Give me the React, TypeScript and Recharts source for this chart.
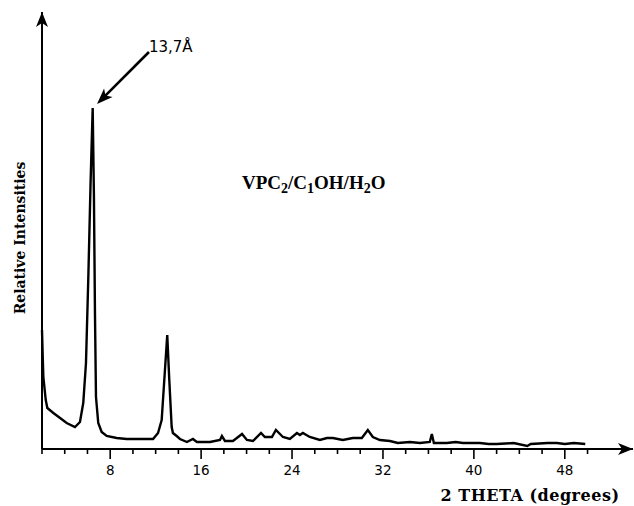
import { LineChart, Line, XAxis, YAxis, ReferenceLine, ReferenceDot } from "recharts";

// 2θ positions (degrees) and relative intensity (arbitrary units)
const twoTheta = [
  2.0, 2.08, 2.12, 2.33, 2.47, 3.0, 3.59, 4.17, 4.9, 5.34, 5.63, 5.87, 6.07, 6.28,
  6.46, 6.57, 6.66, 6.75, 6.95, 7.25, 7.69, 8.57, 9.45, 10.6, 11.77, 12.21, 12.53,
  12.76, 13.02, 13.2, 13.41, 13.52, 13.85, 14.14, 14.75, 15.28, 15.63, 16.78, 17.66,
  17.83, 18.1, 18.8, 19.6, 20.03, 20.56, 21.27, 21.61, 22.23, 22.58, 23.2, 23.81,
  24.43, 24.69, 24.95, 25.56, 26.45, 27.07, 27.59, 28.47, 29.35, 30.14, 30.67, 31.11,
  31.73, 32.61, 33.31, 34.37, 35.25, 36.12, 36.3, 36.48, 37.62, 38.4, 39.03, 40.52,
  41.3, 42.0, 43.5, 44.7, 45.0, 46.5, 47.3, 48.0, 48.8, 49.8,
];
const intensity = [
  119, 86, 72, 49, 41, 36, 31, 26, 22, 27, 46, 86, 169, 269,
  341, 252, 136, 52, 26, 17, 13, 11, 10, 10, 10, 16, 29,
  69, 114, 69, 22, 16, 13, 10, 7, 10, 7, 7, 9,
  13, 8, 8, 15, 9, 8, 16, 12, 12, 19, 12, 10,
  16, 14, 16, 12, 9, 11, 11, 9, 11, 11, 19, 12,
  9, 8, 6, 7, 6, 7, 15, 6, 6, 7, 6, 6,
  5, 5, 6, 3, 5, 6, 6, 5, 6, 5,
];

const xTicks = [2, 4, 6, 8, 10, 12, 14, 16, 18, 20, 22, 24, 26, 28, 30, 32, 34, 36, 38, 40, 42, 44, 46, 48, 50];
const xLabelled = [8, 16, 24, 32, 40, 48];

const peakLabel = "13,7Å";
const arrowFrom = { x: 11.41, y: 397 };
const arrowTo = { x: 6.84, y: 345 };

const data = twoTheta.map((t, i) => ({ t, i: intensity[i] }));

const XTick = ({ x, y, payload }: any) => {
  const major = xLabelled.includes(payload.value);
  return (
    <g>
      <line x1={x} y1={y} x2={x} y2={y + (major ? 10 : 5)} stroke="#000" strokeWidth={1.6} />
      {major && (
        <text x={x} y={y + 26} textAnchor="middle" fontFamily="DejaVu Sans" fontSize={13.5} fill="#000">
          {payload.value}
        </text>
      )}
    </g>
  );
};

// filled arrow head, tip at (cx, cy), pointing along angle (radians)
const head = (cx: number, cy: number, ang: number, len = 15, half = 6) => {
  const c = Math.cos(ang);
  const s = Math.sin(ang);
  const bx = cx - c * len;
  const by = cy - s * len;
  const nx = bx + c * 4;
  const ny = by + s * 4;
  return `M${cx},${cy} L${bx - s * half},${by + c * half} L${nx},${ny} L${bx + s * half},${by - c * half} Z`;
};

const UpHead = ({ cx, cy }: any) => <path d={head(cx, cy, -Math.PI / 2)} fill="#000" />;
const RightHead = ({ cx, cy }: any) => <path d={head(cx, cy, 0)} fill="#000" />;

const PeakArrow = ({ x1, y1, x2, y2 }: any) => {
  const ang = Math.atan2(y2 - y1, x2 - x1);
  return (
    <g>
      <line x1={x1} y1={y1} x2={x2 - Math.cos(ang) * 8} y2={y2 - Math.sin(ang) * 8} stroke="#000" strokeWidth={2.6} />
      <path d={head(x2, y2, ang, 16, 6)} fill="#000" />
      <text x={x1} y={y1} fontFamily="DejaVu Sans" fontSize={15} fill="#000">
        {peakLabel}
      </text>
    </g>
  );
};

export default function App() {
  return (
    <div style={{ position: "absolute", left: 0, top: 0, width: 634, height: 506, background: "#fff" }}>
      <LineChart width={634} height={506} data={data} margin={{ top: 12, right: 1, left: 42, bottom: 0 }}>
        <XAxis
          dataKey="t"
          type="number"
          domain={[2, 54]}
          ticks={xTicks}
          interval={0}
          height={57}
          tickSize={0}
          tickMargin={0}
          tick={<XTick />}
          axisLine={{ stroke: "#000", strokeWidth: 2 }}
          tickLine={false}
        />
        <YAxis type="number" domain={[0, 437]} width={0} hide />
        <ReferenceLine
          segment={[{ x: 2, y: 0 }, { x: 2, y: 437 }]}
          stroke="#000"
          strokeWidth={2}
          ifOverflow="visible"
        />
        <Line
          type="linear"
          dataKey="i"
          stroke="#000"
          strokeWidth={2.4}
          dot={false}
          isAnimationActive={false}
        />
        <ReferenceDot x={2} y={437} r={0} ifOverflow="visible" shape={<UpHead />} />
        <ReferenceDot x={54} y={0} r={0} ifOverflow="visible" shape={<RightHead />} />
        <ReferenceLine segment={[arrowFrom, arrowTo]} ifOverflow="visible" shape={<PeakArrow />} />
        <text x={20} y={238} transform="rotate(-90 20 238)" textAnchor="middle" dominantBaseline="central"
          fontFamily="DejaVu Serif" fontWeight="bold" fontSize={14} fill="#000">
          Relative Intensities
        </text>
        <text x={530} y={501} textAnchor="middle" fontFamily="DejaVu Serif" fontWeight="bold" fontSize={16}
          letterSpacing={0.5} fill="#000">
          2 THETA (degrees)
        </text>
        <text x={242} y={189} fontFamily="Liberation Serif" fontWeight="bold" fontSize={19} fill="#000">
          <tspan>VPC</tspan>
          <tspan dy={4} fontSize={14}>2</tspan>
          <tspan dy={-4}>/C</tspan>
          <tspan dy={4} fontSize={14}>1</tspan>
          <tspan dy={-4}>OH/H</tspan>
          <tspan dy={4} fontSize={14}>2</tspan>
          <tspan dy={-4}>O</tspan>
        </text>
      </LineChart>
    </div>
  );
}
